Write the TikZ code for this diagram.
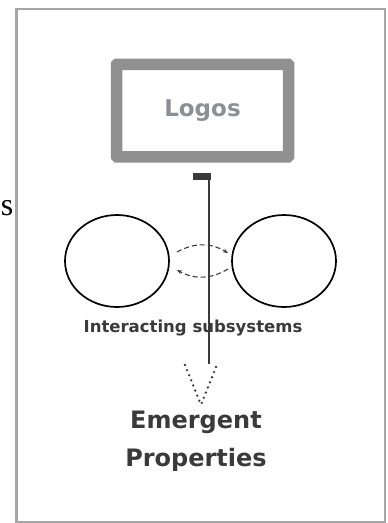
\documentclass[tikz,border=0pt]{standalone}
\usepackage{fontspec}
\setmainfont{DejaVu Sans}
\newfontfamily\serifface{Liberation Serif}
\usetikzlibrary{shapes.geometric,arrows.meta}
\definecolor{boxgrey}{HTML}{909090}
\definecolor{textgrey}{HTML}{8A9095}
\definecolor{inkgrey}{HTML}{3A3A3A}
\begin{document}
\begin{tikzpicture}[x=1pt, y=-1pt,
	subsystem/.style={ellipse, draw=black, line width=1.7pt, minimum width=104pt, minimum height=92pt},
	interaction/.style={draw=inkgrey, dash pattern=on 5pt off 3pt, line width=1.1pt, -{Stealth[length=5pt,width=4pt]}},
	emergence/.style={line width=2.6pt, line cap=round, dash pattern=on 0pt off 5.5pt, draw=inkgrey},
	heading/.style={font=\bfseries\fontsize{24}{38}\selectfont, text=inkgrey, align=center}]
\useasboundingbox (0,0) rectangle (388,523);
\draw[line width=2.5pt, draw=boxgrey!80] (16.5,9) rectangle (385,522);
\node[font=\serifface\fontsize{32}{34}\selectfont] (cut) at (7,208) {s};

\node[draw=boxgrey, line width=11.5pt, rounded corners=0.5pt, minimum width=172pt, minimum height=92.5pt,
	text=textgrey, font=\bfseries\fontsize{23}{26}\selectfont] (logos) at (202.5,110.5) {Logos};

\node[subsystem] (left) at (117,261) {};
\node[subsystem] (right) at (284,261) {};
\draw[interaction] (177,252) coordinate (ua) to[bend left=30] (228,253) coordinate (ub);
\draw[interaction] (228,269) coordinate (la) to[bend left=30] (177,270) coordinate (lb);

\node[font=\bfseries\fontsize{16.5}{18}\selectfont, text=inkgrey] (label) at (193,328) {Interacting subsystems};

% the thread from Logos down to the properties
\coordinate (top) at (209,173);
\coordinate (bottom) at (209,364);
\fill[inkgrey] (193,173) rectangle (210.5,180);
\draw[line width=2.4pt, draw=inkgrey] (top) -- (bottom);
\coordinate (tip) at (201,405);
\draw[emergence] (185,365) -- (tip);
\draw[emergence] (216,367) -- (tip);

\node[heading] (emergent) at (196,441) {Emergent\\Properties};
\end{tikzpicture}
\end{document}
